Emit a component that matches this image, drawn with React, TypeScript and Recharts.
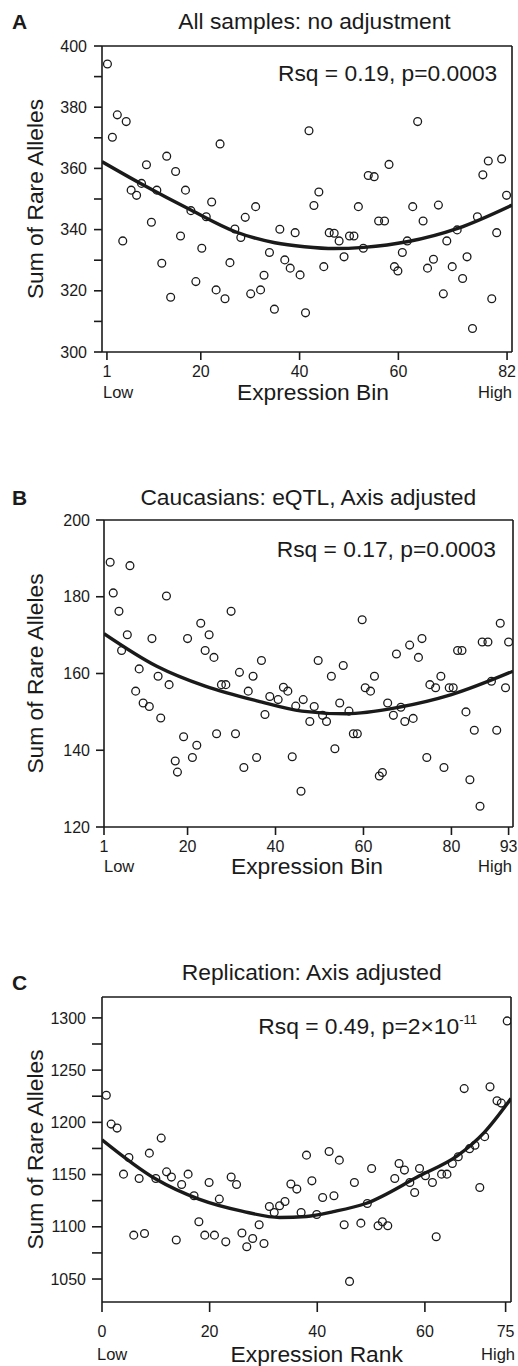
import React from 'react';
import { ComposedChart, Scatter, Line, XAxis, YAxis, ReferenceLine } from 'recharts';

const INK = '#1a1a1a';
const FONT = '"Liberation Sans", Arial, sans-serif';

// Panel A: all samples, no adjustment
const binA = [1.1, 3.1, 4.9, 2.1, 23.9, 13.1, 9.0, 14.9, 8.0, 5.9, 7.0, 11.1, 16.9, 22.2, 31.1, 18.0, 21.1, 29.0, 10.0, 26.9, 28.1, 36.0, 39.1, 4.2, 15.9, 20.2, 33.9, 37.0, 38.1, 40.1, 12.1, 25.9, 32.8, 19.0, 23.1, 24.9, 30.1, 32.1, 13.9, 34.9, 41.2, 41.9, 63.9, 58.1, 53.9, 55.1, 78.2, 80.9, 77.1, 43.9, 42.9, 51.9, 62.9, 68.1, 81.9, 56.0, 57.2, 65.0, 76.0, 46.0, 47.0, 48.0, 50.1, 51.0, 52.9, 61.8, 69.8, 71.9, 79.9, 49.0, 60.8, 44.9, 59.2, 59.9, 67.1, 65.9, 70.9, 73.9, 73.0, 69.1, 78.9, 75.0];
const allelesA = [394.1, 377.5, 375.3, 370.2, 368.0, 364.0, 361.2, 359.0, 355.1, 352.9, 351.2, 352.9, 352.9, 349.0, 347.5, 346.2, 344.2, 344.0, 342.4, 340.2, 337.4, 340.1, 339.0, 336.3, 337.9, 333.9, 332.5, 330.1, 327.4, 325.2, 329.0, 329.2, 325.1, 323.0, 320.3, 317.4, 319.0, 320.3, 317.9, 314.0, 312.8, 372.3, 375.3, 361.3, 357.7, 357.3, 362.4, 363.1, 357.9, 352.3, 347.9, 347.5, 347.5, 348.0, 351.2, 342.8, 342.8, 342.8, 344.2, 339.0, 338.8, 336.3, 337.9, 337.9, 333.9, 336.3, 336.3, 339.9, 339.0, 331.1, 332.5, 327.9, 327.9, 326.5, 330.3, 327.4, 327.9, 331.1, 324.0, 319.0, 317.4, 307.7];
const fitBinA = [0, 8, 18, 27, 35, 41, 47, 53, 62, 72, 83];
const fitAllelesA = [362.2, 354.9, 346.4, 339.3, 335.7, 334.4, 333.8, 334.2, 336.1, 340.4, 348.0];
const xTicksA = [1, 20, 40, 60, 82];
const yTicksA = [300, 310, 320, 330, 340, 350, 360, 370, 380, 390, 400];

// Panel B: Caucasians, eQTL + axis adjusted
const binB = [2.4, 6.9, 3.1, 15.2, 4.4, 29.9, 23.0, 6.3, 11.9, 20.0, 24.9, 5.0, 24.0, 26.0, 36.8, 9.0, 31.8, 34.9, 13.3, 15.8, 27.7, 28.7, 8.2, 33.8, 41.8, 42.8, 38.7, 40.6, 46.3, 44.6, 9.9, 11.3, 37.6, 13.9, 26.6, 30.9, 19.1, 22.1, 21.1, 35.7, 43.8, 17.2, 17.7, 32.8, 45.8, 63.6, 64.3, 78.3, 84.2, 86.5, 59.7, 91.1, 73.3, 70.5, 67.5, 72.5, 81.4, 82.4, 87.0, 88.3, 93.0, 49.7, 55.4, 52.7, 62.5, 60.4, 61.6, 75.1, 76.4, 77.6, 79.5, 80.4, 89.1, 92.3, 48.8, 54.6, 56.7, 65.5, 68.5, 50.7, 47.8, 51.6, 66.8, 69.4, 71.3, 83.3, 57.7, 58.6, 85.2, 90.3, 53.5, 74.4];
const allelesB = [189.0, 188.1, 181.0, 180.2, 176.2, 176.2, 173.1, 170.1, 169.1, 169.1, 170.1, 166.0, 166.0, 164.2, 163.4, 161.2, 160.3, 159.3, 159.3, 157.1, 157.1, 157.1, 155.4, 155.4, 156.4, 155.4, 154.0, 153.2, 153.2, 151.5, 152.3, 151.4, 149.3, 148.4, 144.3, 144.3, 143.5, 141.3, 138.1, 138.1, 138.3, 137.2, 134.3, 135.5, 129.3, 133.3, 134.2, 135.5, 132.3, 125.4, 174.0, 173.1, 169.1, 167.4, 165.1, 164.2, 166.0, 166.0, 168.2, 168.2, 168.2, 163.4, 162.1, 159.3, 159.3, 156.3, 155.4, 157.1, 156.3, 159.3, 156.3, 156.3, 158.0, 156.3, 151.4, 152.3, 150.2, 152.3, 151.2, 149.1, 147.5, 147.5, 149.1, 147.5, 148.3, 150.0, 144.3, 144.3, 145.2, 145.2, 140.4, 138.1];
const fitBinB = [1, 13, 24, 36, 46, 56, 68, 80, 94];
const fitAllelesB = [170.4, 161.9, 156.7, 152.8, 150.2, 149.5, 151.2, 154.5, 160.6];
const xTicksB = [1, 20, 40, 60, 80, 93];
const yTicksB = [120, 140, 160, 180, 200];

// Panel C: replication, axis adjusted
const rankC = [0.8, 1.7, 2.8, 11.0, 5.0, 8.8, 4.0, 6.9, 10.0, 12.0, 12.9, 16.0, 14.8, 19.9, 24.0, 25.0, 17.1, 21.8, 35.1, 36.2, 31.1, 32.0, 33.0, 34.0, 37.0, 18.0, 29.2, 5.9, 7.9, 13.8, 19.1, 20.9, 23.0, 26.0, 26.9, 28.0, 30.1, 75.3, 67.3, 72.1, 73.4, 74.2, 38.0, 42.2, 44.1, 39.0, 50.1, 55.2, 56.2, 54.4, 59.0, 60.1, 57.2, 61.4, 63.1, 64.1, 65.1, 66.2, 68.3, 69.3, 71.1, 46.9, 70.2, 58.1, 41.0, 43.1, 49.3, 39.9, 45.0, 48.1, 51.3, 52.1, 53.1, 62.1, 46.0];
const allelesC = [1226.0, 1198.3, 1194.5, 1184.9, 1166.3, 1170.5, 1150.4, 1146.2, 1146.2, 1152.6, 1147.6, 1150.4, 1140.5, 1142.4, 1147.6, 1140.5, 1129.7, 1126.5, 1140.9, 1136.1, 1119.4, 1113.7, 1120.1, 1124.2, 1113.7, 1104.8, 1101.9, 1092.0, 1093.6, 1087.3, 1092.0, 1092.0, 1085.6, 1094.0, 1080.9, 1088.8, 1084.0, 1297.1, 1232.3, 1234.0, 1220.6, 1218.4, 1168.6, 1172.1, 1163.8, 1144.0, 1155.8, 1160.6, 1154.3, 1146.2, 1155.8, 1148.8, 1142.4, 1142.4, 1150.4, 1150.4, 1160.6, 1167.0, 1174.8, 1178.0, 1186.3, 1142.4, 1137.6, 1132.8, 1128.0, 1129.7, 1122.3, 1111.8, 1101.9, 1103.5, 1101.0, 1104.8, 1101.0, 1090.4, 1047.7];
const fitRankC = [0, 10, 18, 26, 33, 38, 43, 49, 59, 66, 71, 76];
const fitAllelesC = [1183.3, 1145.7, 1126.5, 1115.0, 1108.9, 1109.9, 1114.5, 1122.3, 1148.8, 1167.9, 1190.2, 1222.8];
const xTicksC = [0, 20, 40, 60, 75];
const yTicksC = [1050, 1075, 1100, 1125, 1150, 1175, 1200, 1225, 1250, 1275, 1300];

const zip = (xs: number[], ys: number[]) => xs.map((x, i) => ({ x, y: ys[i] }));

const Ring = (props: any) => (
  <circle cx={props.cx} cy={props.cy} r={3.9} fill="none" stroke={INK} strokeWidth={1.3} />
);

interface PanelProps {
  top: number;
  height: number;
  margin: { top: number; right: number; bottom: number; left: number };
  points: { x: number; y: number }[];
  curve: { x: number; y: number }[];
  xDomain: [number, number];
  yDomain: [number, number];
  xTicks: number[];
  yTicks: number[];
  labelEvery: number;
  xTickSize: number;
  xTickMargin: number;
  yTickSize: number;
  yTickMargin: number;
}

function Panel(p: PanelProps) {
  const axisStyle = { stroke: INK, strokeWidth: 1.6 };
  const tickStyle = { fill: INK, fontSize: 16, fontFamily: FONT };
  return (
    <div style={{ position: 'absolute', left: 0, top: p.top }}>
      <ComposedChart width={518} height={p.height} margin={p.margin}>
        <XAxis
          type="number"
          dataKey="x"
          domain={p.xDomain}
          ticks={p.xTicks}
          interval={0}
          allowDataOverflow
          height={30}
          tickSize={p.xTickSize}
          tickMargin={p.xTickMargin}
          axisLine={axisStyle}
          tickLine={axisStyle}
          tick={tickStyle}
        />
        <YAxis
          type="number"
          dataKey="y"
          domain={p.yDomain}
          ticks={p.yTicks}
          interval={0}
          allowDataOverflow
          width={50}
          tickSize={p.yTickSize}
          tickMargin={p.yTickMargin}
          tickFormatter={(v: number) => (v % p.labelEvery === 0 ? String(v) : '')}
          axisLine={axisStyle}
          tickLine={axisStyle}
          tick={tickStyle}
        />
        <ReferenceLine y={p.yDomain[1]} stroke={INK} strokeWidth={1.6} />
        <ReferenceLine x={p.xDomain[1]} stroke={INK} strokeWidth={1.6} />
        <Scatter data={p.points} dataKey="y" shape={Ring} isAnimationActive={false} />
        <Line
          data={p.curve}
          dataKey="y"
          type="monotone"
          stroke={INK}
          strokeWidth={3.4}
          dot={false}
          activeDot={false}
          isAnimationActive={false}
        />
      </ComposedChart>
    </div>
  );
}

const big = { fontFamily: FONT, fontSize: 22.8, fill: INK };
const small = { fontFamily: FONT, fontSize: 16.5, fill: INK };
const letter = { fontFamily: FONT, fontSize: 21, fontWeight: 700, fill: INK };

function Labels() {
  return (
    <svg width={518} height={1366} style={{ position: 'absolute', left: 0, top: 0, pointerEvents: 'none' }}>
      {/* panel A */}
      <text x={12} y={29} {...letter}>A</text>
      <text x={314.5} y={29} textAnchor="middle" {...big}>All samples: no adjustment</text>
      <text x={278} y={80.5} {...big}>Rsq = 0.19, p=0.0003</text>
      <text transform="translate(43,199) rotate(-90)" textAnchor="middle" {...big}>Sum of Rare Alleles</text>
      <text x={103} y={398} {...small}>Low</text>
      <text x={313} y={400} textAnchor="middle" {...big}>Expression Bin</text>
      <text x={512} y={398} textAnchor="end" {...small}>High</text>

      {/* panel B */}
      <text x={12} y={505} {...letter}>B</text>
      <text x={308.3} y={505} textAnchor="middle" {...big}>Caucasians: eQTL, Axis adjusted</text>
      <text x={276.7} y={556.5} {...big}>Rsq = 0.17, p=0.0003</text>
      <text transform="translate(43,673.5) rotate(-90)" textAnchor="middle" {...big}>Sum of Rare Alleles</text>
      <text x={104} y={872} {...small}>Low</text>
      <text x={307} y={874} textAnchor="middle" {...big}>Expression Bin</text>
      <text x={512} y={872} textAnchor="end" {...small}>High</text>

      {/* panel C */}
      <text x={12} y={990} {...letter}>C</text>
      <text x={311.7} y={979.5} textAnchor="middle" {...big}>Replication: Axis adjusted</text>
      <text x={258.3} y={1034} {...big}>
        Rsq = 0.49, p=2×10
        <tspan fontSize={13} dy={-10}>-11</tspan>
      </text>
      <text transform="translate(43,1149.5) rotate(-90)" textAnchor="middle" {...big}>Sum of Rare Alleles</text>
      <text x={97} y={1360} {...small}>Low</text>
      <text x={316.7} y={1361.7} textAnchor="middle" {...big}>Expression Rank</text>
      <text x={515} y={1360} textAnchor="end" {...small}>High</text>
    </svg>
  );
}

export default function App() {
  return (
    <div style={{ position: 'absolute', left: 0, top: 0, width: 518, height: 1366, background: '#fff' }}>
      <Panel
        top={0}
        height={400}
        margin={{ top: 46, right: 6, bottom: 18, left: 52 }}
        points={zip(binA, allelesA)}
        curve={zip(fitBinA, fitAllelesA)}
        xDomain={[0, 83]}
        yDomain={[300, 400]}
        xTicks={xTicksA}
        yTicks={yTicksA}
        labelEvery={20}
        xTickSize={8}
        xTickMargin={6}
        yTickSize={8}
        yTickMargin={7}
      />
      <Panel
        top={470}
        height={400}
        margin={{ top: 50, right: 5, bottom: 13, left: 54 }}
        points={zip(binB, allelesB)}
        curve={zip(fitBinB, fitAllelesB)}
        xDomain={[1, 94]}
        yDomain={[120, 200]}
        xTicks={xTicksB}
        yTicks={yTicksB}
        labelEvery={20}
        xTickSize={8}
        xTickMargin={6}
        yTickSize={8}
        yTickMargin={6}
      />
      <Panel
        top={950}
        height={416}
        margin={{ top: 47, right: 7, bottom: 34, left: 52 }}
        points={zip(rankC, allelesC)}
        curve={zip(fitRankC, fitAllelesC)}
        xDomain={[0, 76]}
        yDomain={[1028, 1320]}
        xTicks={xTicksC}
        yTicks={yTicksC}
        labelEvery={50}
        xTickSize={10}
        xTickMargin={14}
        yTickSize={10}
        yTickMargin={6}
      />
      <Labels />
    </div>
  );
}
